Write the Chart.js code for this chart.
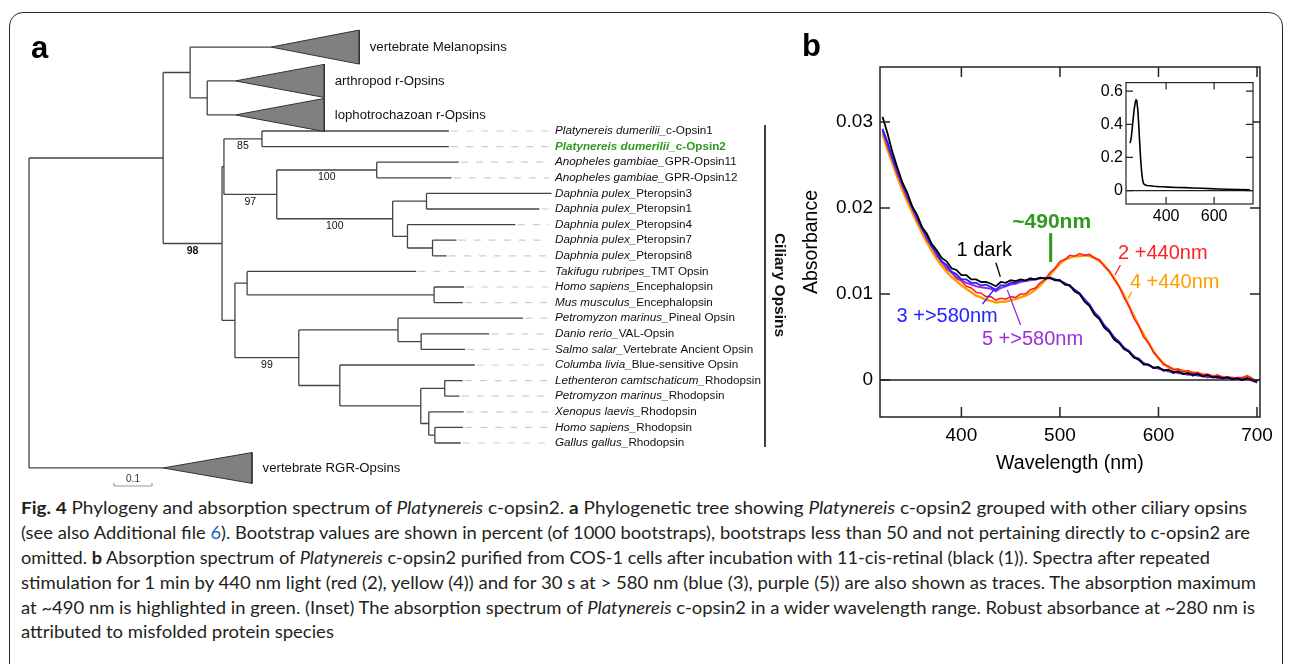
<!DOCTYPE html>
<html>
<head>
<meta charset="utf-8">
<script src="https://cdn.jsdelivr.net/npm/chart.js@4.4.1/dist/chart.umd.min.js"></script>
<style>
html, body { margin: 0; padding: 0; background: #fff; width: 1293px; height: 664px; overflow: hidden; position: relative; }
#frame { position: absolute; left: 9px; top: 12px; width: 1272px; height: 720px; border: 1.6px solid #2a2a2a; border-radius: 14px; }
canvas { position: absolute; }
#tree { left: 0; top: 0; }
#spec { left: 795px; top: 20px; }
#inset { left: 1085px; top: 70px; }
.cap { position: absolute; left: 21px; white-space: nowrap; font-family: Lato, "Open Sans", sans-serif; font-size: 17.5px; line-height: 25px; color: #231f20; transform-origin: 0 50%; }
.cap .lnk { color: #1f5fbf; }
</style>
</head>
<body>
<div id="frame"></div>
<canvas id="tree" width="790" height="495"></canvas>
<canvas id="spec" width="485" height="460"></canvas>
<canvas id="inset" width="180" height="160"></canvas>

<div class="cap" style="top:495px"><b>Fig. 4</b> Phylogeny and absorption spectrum of <i>Platynereis</i> c-opsin2. <b>a</b> Phylogenetic tree showing <i>Platynereis</i> c-opsin2 grouped with other ciliary opsins</div>
<div class="cap" style="top:520px">(see also Additional file <span class="lnk">6</span>). Bootstrap values are shown in percent (of 1000 bootstraps), bootstraps less than 50 and not pertaining directly to c-opsin2 are</div>
<div class="cap" style="top:545px">omitted. <b>b</b> Absorption spectrum of <i>Platynereis</i> c-opsin2 purified from COS-1 cells after incubation with 11-cis-retinal (black (1)). Spectra after repeated</div>
<div class="cap" style="top:570px">stimulation for 1 min by 440 nm light (red (2), yellow (4)) and for 30 s at &gt; 580 nm (blue (3), purple (5)) are also shown as traces. The absorption maximum</div>
<div class="cap" style="top:595px">at ~490 nm is highlighted in green. (Inset) The absorption spectrum of <i>Platynereis</i> c-opsin2 in a wider wavelength range. Robust absorbance at ~280 nm is</div>
<div class="cap" style="top:619px">attributed to misfolded protein species</div>

<script>
// ================= DATA =================

// --- panel a: tree (newick, branch lengths in substitutions/site) ---
const treeNewick = "(((MEL:0.213,(ART:0.074,LOP:0.074):0.045):0.071,(((c1:0.492,c2:0.492)85:0.100,((g11:0.216,g12:0.197)100:0.263,((p3:0.329,p1:0.297):0.089,(p4:0.284,(p7:0.063,p8:0.037):0.066):0.039)100:0.305)97:0.139):0.005,((tmt:0.445,(hE:0.079,mE:0.076):0.492):0.032,((pp:0.329,(dv:0.179,ss:0.116):0.061):0.261,(cl:0.355,((lr:0.047,pr:0.039):0.063,(xr:0.092,(hr:0.074,gr:0.068):0.016):0.021):0.213):0.108)99:0.168):0.034)98:0.155):0.353,RGR:0.353);";

const taxonIds = ['c1','c2','g11','g12','p3','p1','p4','p7','p8','tmt','hE','mE','pp','dv','ss','cl','lr','pr','xr','hr','gr'];
const taxonSpecies = ['Platynereis dumerilii','Platynereis dumerilii','Anopheles gambiae','Anopheles gambiae',
  'Daphnia pulex','Daphnia pulex','Daphnia pulex','Daphnia pulex','Daphnia pulex','Takifugu rubripes',
  'Homo sapiens','Mus musculus','Petromyzon marinus','Danio rerio','Salmo salar','Columba livia',
  'Lethenteron camtschaticum','Petromyzon marinus','Xenopus laevis','Homo sapiens','Gallus gallus'];
const taxonGene = ['c-Opsin1','c-Opsin2','GPR-Opsin11','GPR-Opsin12','Pteropsin3','Pteropsin1','Pteropsin4',
  'Pteropsin7','Pteropsin8','TMT Opsin','Encephalopsin','Encephalopsin','Pineal Opsin','VAL-Opsin',
  'Vertebrate Ancient Opsin','Blue-sensitive Opsin','Rhodopsin','Rhodopsin','Rhodopsin','Rhodopsin','Rhodopsin'];
const highlightTaxon = 'c2';

// collapsed clades (triangles)
const cladeIds = ['MEL','ART','LOP','RGR'];
const cladeNames = ['vertebrate Melanopsins','arthropod r-Opsins','lophotrochazoan r-Opsins','vertebrate RGR-Opsins'];
const cladeRows = [-5.38, -3.21, -1.03, 21.6];
const cladeDepth = [0.232, 0.234, 0.234, 0.234];
const cladeSpread = [1.09, 1.06, 1.06, 0.99];

const boldBootstrap = ['98'];
const scaleBarLength = 0.1;
const groupLabel = 'Ciliary Opsins';

// --- panel b: absorption spectra ---
const wavelengths = [320,325,330,335,340,345,350,355,360,365,
  370,375,380,385,390,395,400,405,410,415,
  420,425,430,435,440,445,450,455,460,465,
  470,475,480,485,490,495,500,505,510,515,
  520,525,530,535,540,545,550,555,560,565,
  570,575,580,585,590,595,600,605,610,615,
  620,625,630,635,640,645,650,655,660,665,
  670,675,680,685,690,695,700];

const absDark = [0.0306,0.0287,0.0265,0.0247,0.0230,0.0218,0.0202,0.0192,0.0178,0.0170,
  0.0158,0.0151,0.0142,0.0138,0.0130,0.0128,0.0122,0.0122,0.0117,0.0117,
  0.0114,0.0114,0.0112,0.0109,0.0114,0.0113,0.0116,0.0115,0.0117,0.0116,
  0.0118,0.0117,0.0119,0.0118,0.0119,0.0116,0.0116,0.0111,0.0110,0.0103,
  0.0100,0.0091,0.0086,0.0076,0.0071,0.0061,0.0056,0.0047,0.0043,0.0036,
  0.0033,0.0026,0.0024,0.0018,0.0018,0.0014,0.0015,0.0011,0.0012,0.0009,
  0.0010,0.0007,0.0008,0.0006,0.0007,0.0004,0.0006,0.0003,0.0004,0.0002,
  0.0003,0.0001,0.0002,0.0000,0.0002,0.0000,-0.0002];

const abs440first = [0.0290,0.0271,0.0256,0.0239,0.0226,0.0211,0.0200,0.0186,0.0176,0.0163,
  0.0155,0.0144,0.0138,0.0129,0.0125,0.0118,0.0115,0.0109,0.0107,0.0102,
  0.0101,0.0097,0.0097,0.0093,0.0095,0.0094,0.0097,0.0096,0.0100,0.0100,
  0.0105,0.0107,0.0113,0.0117,0.0125,0.0130,0.0138,0.0140,0.0145,0.0144,
  0.0147,0.0145,0.0146,0.0142,0.0140,0.0132,0.0127,0.0117,0.0109,0.0096,
  0.0086,0.0072,0.0063,0.0050,0.0043,0.0032,0.0026,0.0018,0.0016,0.0012,
  0.0013,0.0010,0.0011,0.0008,0.0009,0.0006,0.0007,0.0004,0.0006,0.0003,
  0.0004,0.0002,0.0003,0.0003,0.0005,0.0002,-0.0002];

const abs440second = [0.0286,0.0268,0.0252,0.0236,0.0221,0.0208,0.0195,0.0183,0.0171,0.0160,
  0.0150,0.0141,0.0133,0.0126,0.0120,0.0115,0.0110,0.0106,0.0102,0.0098,
  0.0096,0.0093,0.0092,0.0090,0.0091,0.0091,0.0093,0.0094,0.0096,0.0098,
  0.0101,0.0105,0.0110,0.0116,0.0122,0.0129,0.0135,0.0140,0.0142,0.0144,
  0.0144,0.0145,0.0144,0.0142,0.0138,0.0134,0.0126,0.0119,0.0109,0.0099,
  0.0086,0.0075,0.0063,0.0053,0.0043,0.0034,0.0025,0.0020,0.0015,0.0013,
  0.0011,0.0011,0.0009,0.0009,0.0007,0.0007,0.0005,0.0005,0.0004,0.0004,
  0.0002,0.0003,0.0001,0.0002,0.0003,0.0001,-0.0003];

const abs580first = [0.0292,0.0277,0.0258,0.0244,0.0228,0.0216,0.0201,0.0190,0.0176,0.0167,
  0.0155,0.0148,0.0138,0.0134,0.0126,0.0123,0.0117,0.0117,0.0113,0.0113,
  0.0110,0.0111,0.0108,0.0105,0.0110,0.0110,0.0113,0.0113,0.0116,0.0115,
  0.0118,0.0117,0.0119,0.0118,0.0119,0.0117,0.0116,0.0112,0.0110,0.0105,
  0.0101,0.0093,0.0088,0.0078,0.0073,0.0063,0.0058,0.0049,0.0045,0.0037,
  0.0034,0.0027,0.0025,0.0019,0.0018,0.0014,0.0015,0.0011,0.0012,0.0008,
  0.0010,0.0007,0.0008,0.0005,0.0007,0.0004,0.0005,0.0003,0.0004,0.0002,
  0.0003,0.0001,0.0002,0.0001,0.0002,0.0000,-0.0002];

const abs580second = [0.0290,0.0274,0.0257,0.0241,0.0227,0.0213,0.0200,0.0187,0.0176,0.0165,
  0.0155,0.0146,0.0137,0.0131,0.0125,0.0120,0.0116,0.0113,0.0111,0.0109,
  0.0108,0.0107,0.0106,0.0103,0.0107,0.0109,0.0111,0.0112,0.0114,0.0115,
  0.0116,0.0117,0.0118,0.0119,0.0118,0.0117,0.0115,0.0113,0.0109,0.0105,
  0.0100,0.0094,0.0087,0.0079,0.0072,0.0064,0.0057,0.0050,0.0044,0.0038,
  0.0033,0.0028,0.0023,0.0020,0.0017,0.0015,0.0013,0.0012,0.0010,0.0010,
  0.0008,0.0008,0.0006,0.0007,0.0005,0.0005,0.0003,0.0004,0.0002,0.0003,
  0.0001,0.0002,0.0000,0.0001,0.0001,-0.0001,-0.0003];

const specXTicks = [400, 500, 600, 700];
const specYTicks = [0, 0.01, 0.02, 0.03];

// inset: wide range spectrum
const insetWavelengths = [250,255,261,267,272,275,278,282,286,290,294,298,302,306,312,320,333,350,370,388,410,444,480,512,550,583,620,652,700,750];
const insetAbs = [0.287,0.320,0.407,0.490,0.535,0.547,0.540,0.490,0.400,0.290,0.190,0.116,0.065,0.042,0.035,0.031,0.029,0.026,0.024,0.023,0.021,0.019,0.018,0.016,0.014,0.012,0.010,0.008,0.006,0.004];
const insetXTicks = [400, 600];
const insetYTicks = [0, 0.2, 0.4, 0.6];

// ================= STYLE / LAYOUT =================
const FONT = '"Liberation Sans", Arial, sans-serif';
const GREEN = '#2e9a1e';
const RED = '#ff1f1f';
const ORANGE = '#ff9d00';
const BLUE = '#2424ff';
const PURPLE = '#9b2fd6';
Chart.defaults.font.family = FONT;
Chart.defaults.color = '#000';

// tree canvas mapping: root at 29px, 380px per unit, rows every 15.6px from 131px
const TREE_X0 = 29, UNIT = 380, ROW0 = 131, ROW_H = 15.6;
const TREE_W = 790, TREE_H = 495;
const LABEL_AT = (555 - TREE_X0) / UNIT;
const LEADER_END = (549 - TREE_X0) / UNIT;
const BAR_X = (765 - TREE_X0) / UNIT;
const BAR_TEXT_X = (779 - TREE_X0) / UNIT;
const SCALE_AT = (114 - TREE_X0) / UNIT;
const SCALE_ROW = (486 - ROW0) / ROW_H;

// ================= TREE =================
function parseNewick(str) {
  const s = str.replace(/\s+/g, '');
  let i = 0;
  function node() {
    const n = { children: [] };
    if (s[i] === '(') {
      i++;
      n.children.push(node());
      while (s[i] === ',') { i++; n.children.push(node()); }
      i++;
    }
    let name = '';
    while (i < s.length && !',():;'.includes(s[i])) name += s[i++];
    n.name = name;
    n.len = 0;
    if (s[i] === ':') {
      i++;
      let len = '';
      while (i < s.length && !',();'.includes(s[i])) len += s[i++];
      n.len = parseFloat(len);
    }
    return n;
  }
  return node();
}

function rowOf(name) {
  const t = taxonIds.indexOf(name);
  return t >= 0 ? t : cladeRows[cladeIds.indexOf(name)];
}

function layout(n, x0) {
  n.x = x0 + n.len;
  if (n.children.length) {
    n.children.forEach(c => layout(c, n.x));
    n.y = (n.children[0].y + n.children[n.children.length - 1].y) / 2;
  } else {
    n.y = rowOf(n.name);
  }
}

const root = parseNewick(treeNewick);
layout(root, 0);

const branchPts = [], leaderPts = [], bootstraps = [], clades = [];
function seg(arr, x1, y1, x2, y2) {
  arr.push({ x: x1, y: y1 }, { x: x2, y: y2 }, { x: x2, y: null });
}
function walk(n, parent) {
  if (parent) {
    seg(branchPts, parent.x, n.y, n.x, n.y);
    if (n.children.length && n.name) bootstraps.push({ x: (parent.x + n.x) / 2, y: n.y, t: n.name });
  }
  if (n.children.length) {
    seg(branchPts, n.x, n.children[0].y, n.x, n.children[n.children.length - 1].y);
    n.children.forEach(c => walk(c, n));
  } else if (taxonIds.includes(n.name)) {
    if (n.x < LEADER_END - 0.005) seg(leaderPts, n.x + 0.006, n.y, LEADER_END, n.y);
  } else {
    clades.push(n);
  }
}
walk(root, null);

const triangleSets = clades.map(n => {
  const k = cladeIds.indexOf(n.name);
  const d = cladeDepth[k], h = cladeSpread[k];
  return {
    data: [{ x: n.x, y: n.y }, { x: n.x + d, y: n.y - h }, { x: n.x + d, y: n.y + h }, { x: n.x, y: n.y }],
    showLine: true, fill: 'shape', backgroundColor: '#808080', borderColor: '#333', borderWidth: 1,
    pointRadius: 0
  };
});

const barPts = [{ x: BAR_X, y: (125 - ROW0) / ROW_H }, { x: BAR_X, y: (447 - ROW0) / ROW_H }];
const sbPts = [];
seg(sbPts, SCALE_AT, SCALE_ROW, SCALE_AT + scaleBarLength, SCALE_ROW);
seg(sbPts, SCALE_AT, SCALE_ROW, SCALE_AT, SCALE_ROW - 0.2);
seg(sbPts, SCALE_AT + scaleBarLength, SCALE_ROW, SCALE_AT + scaleBarLength, SCALE_ROW - 0.2);

const treeText = {
  id: 'treeText',
  afterDatasetsDraw(chart) {
    const { ctx, scales: { x, y } } = chart;
    ctx.save();
    ctx.textBaseline = 'middle';
    ctx.textAlign = 'left';
    // taxa
    taxonIds.forEach((id, i) => {
      const hi = id === highlightTaxon;
      let px = x.getPixelForValue(LABEL_AT);
      const py = y.getPixelForValue(i);
      ctx.fillStyle = hi ? GREEN : '#111';
      ctx.font = (hi ? 'italic bold ' : 'italic ') + '11.7px ' + FONT;
      const sp = taxonSpecies[i] + '_';
      ctx.fillText(sp, px, py);
      px += ctx.measureText(sp).width;
      ctx.font = (hi ? 'bold ' : '') + '11.7px ' + FONT;
      ctx.fillText(taxonGene[i], px, py);
    });
    // collapsed clades
    ctx.fillStyle = '#111';
    ctx.font = '13.2px ' + FONT;
    clades.forEach(n => {
      const k = cladeIds.indexOf(n.name);
      ctx.fillText(cladeNames[k], x.getPixelForValue(n.x + cladeDepth[k]) + 10.5, y.getPixelForValue(n.y));
    });
    // bootstraps
    ctx.textAlign = 'center';
    bootstraps.forEach(b => {
      ctx.font = (boldBootstrap.includes(b.t) ? 'bold ' : '') + '10.5px ' + FONT;
      ctx.fillText(b.t, x.getPixelForValue(b.x), y.getPixelForValue(b.y) + 7.5);
    });
    // scale bar label
    ctx.font = '10px ' + FONT;
    ctx.fillStyle = '#333';
    ctx.fillText(String(scaleBarLength), x.getPixelForValue(SCALE_AT + scaleBarLength / 2), y.getPixelForValue(SCALE_ROW) - 7);
    // group label
    ctx.fillStyle = '#111';
    ctx.font = 'bold 15.5px ' + FONT;
    ctx.translate(x.getPixelForValue(BAR_TEXT_X), y.getPixelForValue((285 - ROW0) / ROW_H));
    ctx.rotate(Math.PI / 2);
    ctx.fillText(groupLabel, 0, 0);
    ctx.restore();
    // panel letter
    ctx.save();
    ctx.font = 'bold 31px ' + FONT;
    ctx.fillStyle = '#000';
    ctx.textBaseline = 'alphabetic';
    ctx.fillText('a', 31, 58);
    ctx.restore();
  }
};

new Chart(document.getElementById('tree'), {
  type: 'scatter',
  data: {
    datasets: [
      ...triangleSets,
      { data: branchPts, showLine: true, borderColor: '#444', borderWidth: 1.3, pointRadius: 0 },
      { data: leaderPts, showLine: true, borderColor: '#cdcdcd', borderWidth: 1.2, borderDash: [7, 8], pointRadius: 0 },
      { data: barPts, showLine: true, borderColor: '#111', borderWidth: 1.6, pointRadius: 0 },
      { data: sbPts, showLine: true, borderColor: '#999', borderWidth: 1.2, pointRadius: 0 }
    ]
  },
  options: {
    responsive: false, animation: false, events: [],
    layout: { padding: 0, autoPadding: false },
    plugins: { legend: { display: false }, tooltip: { enabled: false } },
    scales: {
      x: { type: 'linear', display: false, min: -TREE_X0 / UNIT, max: (TREE_W - TREE_X0) / UNIT },
      y: { type: 'linear', display: false, reverse: true, min: -ROW0 / ROW_H, max: (TREE_H - ROW0) / ROW_H }
    }
  },
  plugins: [treeText]
});

// ================= SPECTRA =================
function boxAndTicks(chart, xt, yt, len, lw) {
  const { ctx, chartArea: a, scales: { x, y } } = chart;
  ctx.save();
  ctx.strokeStyle = '#222';
  ctx.lineWidth = lw;
  ctx.strokeRect(a.left, a.top, a.right - a.left, a.bottom - a.top);
  ctx.beginPath();
  xt.forEach(v => {
    const px = x.getPixelForValue(v);
    ctx.moveTo(px, a.bottom); ctx.lineTo(px, a.bottom - len);
    ctx.moveTo(px, a.top); ctx.lineTo(px, a.top + len);
  });
  yt.forEach(v => {
    const py = y.getPixelForValue(v);
    ctx.moveTo(a.left, py); ctx.lineTo(a.left + len, py);
    ctx.moveTo(a.right, py); ctx.lineTo(a.right - len, py);
  });
  ctx.stroke();
  ctx.restore();
}
function zeroLine(chart, lw) {
  const { ctx, chartArea: a, scales: { y } } = chart;
  const py = y.getPixelForValue(0);
  ctx.save();
  ctx.strokeStyle = '#222';
  ctx.lineWidth = lw;
  ctx.beginPath(); ctx.moveTo(a.left, py); ctx.lineTo(a.right, py); ctx.stroke();
  ctx.restore();
}

const specNotes = [
  { text: '1 dark', x: 395, y: 0.01442, color: '#000', line: [435, 0.01364, 439.5, 0.01201] },
  { text: '2 +440nm', x: 559, y: 0.01403, color: RED, line: [561.4, 0.01337, 555.8, 0.01221] },
  { text: '4 +440nm', x: 571, y: 0.01066, color: ORANGE, line: [573.1, 0.01027, 569.1, 0.0095] },
  { text: '3 +>580nm', x: 334.2, y: 0.00678, color: BLUE, line: [421.4, 0.00884, 433.5, 0.01058] },
  { text: '5 +>580nm', x: 420.8, y: 0.00407, color: PURPLE, line: [446.6, 0.01047, 460.1, 0.0064] }
];

const specDeco = {
  id: 'specDeco',
  beforeDatasetsDraw(chart) { zeroLine(chart, 1.5); },
  afterDatasetsDraw(chart) {
    boxAndTicks(chart, specXTicks, specYTicks, 10, 1.5);
    const { ctx, scales: { x, y } } = chart;
    ctx.save();
    ctx.textBaseline = 'alphabetic';
    specNotes.forEach(n => {
      ctx.strokeStyle = n.color;
      ctx.lineWidth = 1.3;
      ctx.beginPath();
      ctx.moveTo(x.getPixelForValue(n.line[0]), y.getPixelForValue(n.line[1]));
      ctx.lineTo(x.getPixelForValue(n.line[2]), y.getPixelForValue(n.line[3]));
      ctx.stroke();
      ctx.fillStyle = n.color;
      ctx.font = '20px ' + FONT;
      ctx.textAlign = 'left';
      ctx.fillText(n.text, x.getPixelForValue(n.x), y.getPixelForValue(n.y));
    });
    // absorption maximum
    ctx.strokeStyle = GREEN;
    ctx.lineWidth = 3;
    ctx.beginPath();
    ctx.moveTo(x.getPixelForValue(490.6), y.getPixelForValue(0.01709));
    ctx.lineTo(x.getPixelForValue(490.6), y.getPixelForValue(0.01372));
    ctx.stroke();
    ctx.fillStyle = GREEN;
    ctx.font = 'bold 21px ' + FONT;
    ctx.textAlign = 'center';
    ctx.fillText('~490nm', x.getPixelForValue(491.6), y.getPixelForValue(0.01767));
    // panel letter
    ctx.fillStyle = '#000';
    ctx.font = 'bold 31px ' + FONT;
    ctx.textAlign = 'left';
    ctx.fillText('b', 7, 36);
    ctx.restore();
  }
};

function trace(arr, color, width) {
  return {
    data: wavelengths.map((w, i) => ({ x: w, y: arr[i] })),
    showLine: true, borderColor: color, borderWidth: width, pointRadius: 0
  };
}

new Chart(document.getElementById('spec'), {
  type: 'scatter',
  data: {
    datasets: [
      trace(absDark, '#000', 1.8),
      trace(abs580first, BLUE, 1.8),
      trace(abs580second, PURPLE, 2.0),
      trace(abs440first, RED, 1.6),
      trace(abs440second, ORANGE, 2.4)
    ]
  },
  options: {
    responsive: false, animation: false, events: [],
    layout: { padding: { top: 47, right: 17, left: 0, bottom: 0 }, autoPadding: false },
    plugins: { legend: { display: false }, tooltip: { enabled: false } },
    scales: {
      x: {
        type: 'linear', min: 317.4, max: 703,
        afterBuildTicks: ax => { ax.ticks = specXTicks.map(v => ({ value: v })); },
        afterFit: ax => { ax.height = 63; },
        grid: { display: false, drawTicks: false }, border: { display: false },
        ticks: { padding: 7, font: { size: 19 }, color: '#000', maxRotation: 0, autoSkip: false, callback: v => String(v) },
        title: { display: true, text: 'Wavelength (nm)', font: { size: 19.5 }, color: '#000', padding: { top: 0, bottom: 5 } }
      },
      y: {
        type: 'linear', min: -0.0043, max: 0.0364,
        afterBuildTicks: ax => { ax.ticks = specYTicks.map(v => ({ value: v })); },
        afterFit: ax => { ax.width = 85; },
        grid: { display: false, drawTicks: false }, border: { display: false },
        ticks: { padding: 7, font: { size: 19 }, color: '#000', autoSkip: false, callback: v => v === 0 ? '0' : v.toFixed(2) },
        title: { display: true, text: 'Absorbance', font: { size: 19.5 }, color: '#000', padding: { top: 5, bottom: 0 } }
      }
    }
  },
  plugins: [specDeco]
});

// ================= INSET =================
const insetDeco = {
  id: 'insetDeco',
  beforeDatasetsDraw(chart) {
    const { ctx, chartArea: a } = chart;
    ctx.save(); ctx.fillStyle = '#fff'; ctx.fillRect(a.left, a.top, a.right - a.left, a.bottom - a.top); ctx.restore();
    zeroLine(chart, 1.2);
  },
  afterDatasetsDraw(chart) { boxAndTicks(chart, insetXTicks, insetYTicks, 7, 1.2); }
};

new Chart(document.getElementById('inset'), {
  type: 'scatter',
  data: {
    datasets: [{
      data: insetWavelengths.map((w, i) => ({ x: w, y: insetAbs[i] })),
      showLine: true, borderColor: '#000', borderWidth: 1.6, pointRadius: 0
    }]
  },
  options: {
    responsive: false, animation: false, events: [],
    layout: { padding: { top: 7, right: 12, left: 0, bottom: 0 }, autoPadding: false },
    plugins: { legend: { display: false }, tooltip: { enabled: false } },
    scales: {
      x: {
        type: 'linear', min: 233, max: 762,
        afterBuildTicks: ax => { ax.ticks = insetXTicks.map(v => ({ value: v })); },
        afterFit: ax => { ax.height = 26; },
        grid: { display: false, drawTicks: false }, border: { display: false },
        ticks: { padding: 3, font: { size: 16 }, color: '#000', maxRotation: 0, autoSkip: false, callback: v => String(v) }
      },
      y: {
        type: 'linear', min: -0.081, max: 0.652,
        afterBuildTicks: ax => { ax.ticks = insetYTicks.map(v => ({ value: v })); },
        afterFit: ax => { ax.width = 41; },
        grid: { display: false, drawTicks: false }, border: { display: false },
        ticks: { padding: 3, font: { size: 16 }, color: '#000', autoSkip: false, callback: v => v === 0 ? '0' : v.toFixed(1) }
      }
    }
  },
  plugins: [insetDeco]
});

// ================= CAPTION FIT =================
const capRight = [1247, 1250, 1210, 1256, 1255];
const caps = Array.from(document.querySelectorAll('.cap'));
let scaleSum = 0;
caps.forEach((el, i) => {
  if (i < capRight.length) {
    const s = (capRight[i] - 21) / el.getBoundingClientRect().width;
    scaleSum += s;
    el.style.transform = 'scaleX(' + s + ')';
  }
});
caps[caps.length - 1].style.transform = 'scaleX(' + (scaleSum / capRight.length) + ')';
</script>
</body>
</html>
